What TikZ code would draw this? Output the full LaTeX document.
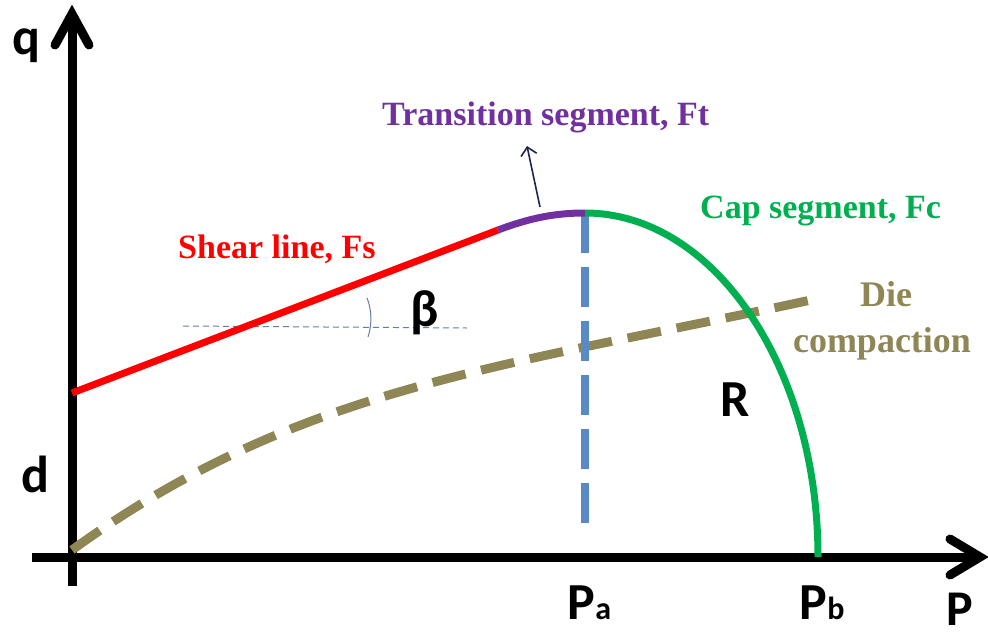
\documentclass[tikz,border=0pt]{standalone}
\usepackage{fontspec}
\setmainfont{Liberation Serif}
\newfontfamily\calib{Carlito}
\usetikzlibrary{arrows.meta}
\definecolor{shearred}{HTML}{FF0000}
\definecolor{transpurple}{HTML}{7030A0}
\definecolor{capgreen}{HTML}{00B050}
\definecolor{pablue}{HTML}{5A8AC6}
\definecolor{dieolive}{HTML}{8E8654}
\definecolor{navy}{HTML}{1A2650}
\definecolor{thinblue}{HTML}{5F7FA8}
\tikzset{
  axisline/.style={line width=9pt, black},
  chevron/.style={line width=9pt, black, line join=miter, line cap=round},
  seglabel/.style={font=\bfseries\fontsize{34}{38}\selectfont, inner sep=0pt, anchor=base west},
  dielabel/.style={font=\bfseries\fontsize{36}{40}\selectfont, inner sep=0pt, anchor=base, text=dieolive},
  sanslabel/.style={font=\calib\bfseries\fontsize{52}{56}\selectfont, inner sep=0pt, anchor=base},
  sublabel/.style={font=\calib\bfseries\fontsize{32}{36}\selectfont, inner sep=0pt, anchor=base west},
}
\begin{document}
\begin{tikzpicture}[x=1pt,y=-1pt]
\useasboundingbox (0,0) rectangle (988,640);
% axes
\coordinate (ybot) at (72,586);
\coordinate (ytop) at (72,14);
\coordinate (xleft) at (32,557);
\coordinate (xright) at (980,557);
\draw[axisline] (ybot) -- (ytop);
\draw[axisline] (xleft) -- (xright);
\draw[chevron] (55,45) -- (72,14) -- (89,45);
\draw[chevron] (950,539) -- (980,557) -- (950,575);
% die compaction
\coordinate (d0) at (72,550);
\coordinate (d1) at (820,298);
\draw[dieolive, line width=9pt, dash pattern=on 34pt off 16pt] (d0) .. controls (300,385) and (500,368) .. (d1);
% blue dashed vertical
\coordinate (pa) at (585,213);
\coordinate (pabot) at (585,527);
\draw[pablue, line width=8pt, dash pattern=on 40pt off 14pt] (pa) -- (pabot);
% thin dashed horizontal and angle
\coordinate (h0) at (183,326);
\coordinate (h1) at (467,328);
\draw[thinblue, line width=1pt, dash pattern=on 6pt off 4pt] (h0) -- (h1);
\draw[thinblue, line width=1pt] (367,298) .. controls (372,310) and (372,325) .. (368,337);
% shear line
\coordinate (s0) at (72,393);
\coordinate (s1) at (498,230);
\draw[shearred, line width=7pt] (s0) -- (s1);
% transition
\draw[transpurple, line width=7pt] (s1) .. controls (530,218) and (555,213) .. (pa);
% cap
\coordinate (pb) at (818,557);
\draw[capgreen, line width=7pt] (pa) arc[start angle=90, end angle=0, x radius=233, y radius=-344];
% transition arrow
\coordinate (ar0) at (540,207);
\coordinate (ar1) at (527,146);
\draw[navy, line width=1.6pt, -{Straight Barb[length=8pt,width=16pt]}] (ar0) -- (ar1);
% labels
\node[seglabel, text=transpurple] (tl) at (382,125) {Transition segment, Ft};
\node[seglabel, text=shearred] (sl) at (178,258) {Shear line, Fs};
\node[seglabel, text=capgreen] (cl) at (700,218) {Cap segment, Fc};
\node[dielabel] (dl1) at (886,306) {Die};
\node[dielabel] (dl2) at (882,352) {compaction};
\node[sanslabel] (ql) at (26,54) {q};
\node[sanslabel] (dl) at (35,492) {d};
\node[sanslabel] (rl) at (735,416) {R};
\node[sanslabel] (bl) at (425,326) {β};
\node[sanslabel, font=\calib\bfseries\fontsize{50}{54}\selectfont] (Pl) at (960,625) {P};
\node[sanslabel, anchor=base west] (pal) at (567,619) {P};
\node[sublabel] at (pal.base east) {a};
\node[sanslabel, anchor=base west] (pbl) at (799,619) {P};
\node[sublabel] at (pbl.base east) {b};
\end{tikzpicture}
\end{document}
